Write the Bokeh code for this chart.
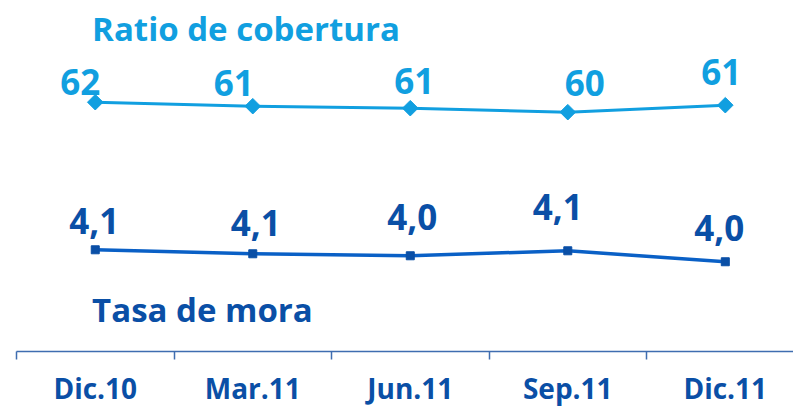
import math
from bokeh.plotting import figure
from bokeh.models import ColumnDataSource, Range1d, FixedTicker, Label
from bokeh.core.properties import value
from bokeh.embed import file_html
from bokeh.resources import INLINE

# ---- data ----
periods = ["Dic.10", "Mar.11", "Jun.11", "Sep.11", "Dic.11"]
coverage = [62.0, 61.2, 60.8, 60.0, 61.4]
coverage_labels = ["62", "61", "61", "60", "61"]
npl = [4.10, 4.06, 4.04, 4.09, 3.98]
npl_labels = ["4,1", "4,1", "4,0", "4,1", "4,0"]

# ---- label placement (screen px, styling only) ----
cov_dx = [-15, -19, 4, 17, -4]
cov_dy = [-20, -23, -27, -29, -33]
npl_dx = [-1, 3, 2, -10, -6]
npl_dy = [-29, -31, -39, -44, -34]

LIGHT = "#119FE0"
DARK = "#0A4FA6"
DARK_LINE = "#0A60C6"
AXIS = "#3F6DB0"
FONT = "Open Sans"

xs = [i + 0.5 for i in range(len(periods))]
boundaries = list(range(len(periods) + 1))

cov_src = ColumnDataSource(dict(x=xs, y=coverage, label=coverage_labels, dx=cov_dx, dy=cov_dy))
npl_src = ColumnDataSource(dict(x=xs, y=npl, label=npl_labels, dx=npl_dx, dy=npl_dy))

p = figure(width=793, height=409,
           x_range=Range1d(0, 4.933), y_range=Range1d(12, 82.4),
           output_backend="svg", toolbar_location=None, y_axis_location=None,
           min_border_left=16, min_border_right=0, min_border_top=0, min_border_bottom=57)
p.extra_y_ranges = {"mora": Range1d(3.08, 6.60)}
p.grid.visible = False
p.outline_line_color = None
p.background_fill_color = "white"

# coverage line
p.line("x", "y", source=cov_src, line_color=LIGHT, line_width=3)
p.scatter("x", "y", source=cov_src, marker="square", size=11, angle=math.pi / 4,
          fill_color=LIGHT, line_color=LIGHT)
p.text("x", "y", text="label", source=cov_src, x_offset="dx", y_offset="dy",
       text_align="center", text_baseline="alphabetic",
       text_font=value(FONT), text_font_style="bold", text_font_size="35px", text_color=LIGHT)

# NPL line
p.line("x", "y", source=npl_src, line_color=DARK_LINE, line_width=3.5, y_range_name="mora")
p.scatter("x", "y", source=npl_src, marker="square", size=8,
          fill_color=DARK, line_color=DARK, y_range_name="mora")
p.text("x", "y", text="label", source=npl_src, x_offset="dx", y_offset="dy",
       text_align="center", text_baseline="alphabetic", y_range_name="mora",
       text_font=value(FONT), text_font_style="bold", text_font_size="35px", text_color=DARK)

# series titles
p.add_layout(Label(x=0.48, y=76.8, text="Ratio de cobertura", text_align="left",
                   text_baseline="alphabetic", text_font=FONT, text_font_style="bold",
                   text_font_size="33px", text_color=LIGHT))
p.add_layout(Label(x=0.48, y=3.50, y_range_name="mora", text="Tasa de mora", text_align="left",
                   text_baseline="alphabetic", text_font=FONT, text_font_style="bold",
                   text_font_size="33px", text_color=DARK))

# x axis
ax = p.xaxis[0]
ax.ticker = FixedTicker(ticks=xs, minor_ticks=boundaries)
ax.major_label_overrides = {x: lab for x, lab in zip(xs, periods)}
ax.major_tick_line_color = None
ax.major_tick_out = 0
ax.major_tick_in = 0
ax.minor_tick_in = 0
ax.minor_tick_out = 8
ax.minor_tick_line_color = AXIS
ax.minor_tick_line_width = 1.5
ax.axis_line_color = AXIS
ax.axis_line_width = 1.5
ax.major_label_standoff = 9
ax.major_label_text_font = FONT
ax.major_label_text_font_style = "bold"
ax.major_label_text_font_size = "28px"
ax.major_label_text_color = DARK

open("out.html", "w").write(file_html(p, INLINE))
